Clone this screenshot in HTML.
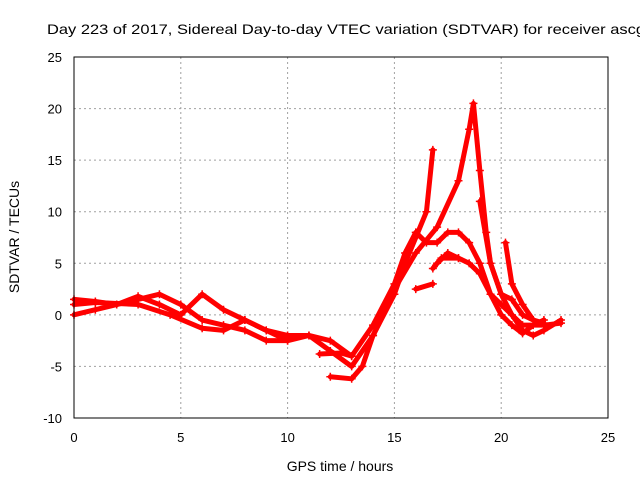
<!DOCTYPE html>
<html><head><meta charset="utf-8"><style>
body{margin:0;background:#fff;}
svg{display:block;font-family:"Liberation Sans",sans-serif;}
</style></head><body>
<svg id="chart" width="640" height="480">
<text x="47" y="34" text-anchor="start" font-size="14" textLength="598" lengthAdjust="spacingAndGlyphs" fill="#000">Day 223 of 2017, Sidereal Day-to-day VTEC variation (SDTVAR) for receiver ascg</text>
<text x="340" y="471" text-anchor="middle" font-size="14" fill="#000">GPS time / hours</text>
<text x="0" y="0" transform="translate(19,237) rotate(-90)" text-anchor="middle" font-size="14" fill="#000">SDTVAR / TECUs</text>
<g id="grid"></g><g id="marks"></g>
<rect x="74" y="57" width="534" height="361" fill="none" stroke="#000" stroke-width="1"/>
<g id="ticks"></g>
</svg>
<script>
const xTicks=[0,5,10,15,20,25];
const yTicks=[-10,-5,0,5,10,15,20,25];
const trackA=[[0,1.5],[1,1.3],[2,1],[3,1.5],[4,2],[5,1],[6,-0.5],[7,-1],[8,-1.5],[9,-2.5],[10,-2.5],[11,-2],[12,-2.5],[13,-4],[14,-1],[15,3],[15.5,6],[16,8],[16.5,7],[17,7],[17.5,8],[18,8],[18.5,7],[19,5],[19.5,2],[20,1],[21,-1],[22,-1],[22.8,-0.8]];
const trackB=[[0,0],[1,0.5],[2,1],[3,1.8],[4,1],[5,0],[6,2],[7,0.5],[8,-0.5],[9,-1.5],[10,-2],[11,-2],[12,-3.5],[13,-5],[14,-2],[15,2],[15.5,5],[16,7.5],[16.5,10],[16.8,16]];
const trackC=[[12,-6],[13,-6.2],[13.5,-5],[14,-2],[15,2.5],[16,6],[17,8.5],[18,13],[18.5,18],[18.7,20.5],[19,14],[19.3,8],[19.5,5],[20,2],[20.5,0],[21,-1.5],[21.5,-2],[22,-1.5],[22.8,-0.5]];
const trackD=[[17,5],[17.5,6],[18,5.5],[18.5,5],[19,4],[19.5,2],[20,0],[20.5,-1],[21,-1.8],[21.5,-1],[22,-0.5]];
const trackE=[[19,11],[19.5,5],[20,2],[20.5,1.5],[21,0],[22,-1]];
const trackF=[[20.2,7],[20.5,3],[21,1],[21.5,-0.5],[22,-0.8]];
const trackG=[[11.5,-3.8],[12.5,-3.7],[13,-4]];
const trackH=[[16,2.5],[16.8,3]];
const trackI=[[16.8,4.5],[17.2,5.5],[18,5.5]];
const trackJ=[[0,1],[1,1.2],[3,1],[4.5,0],[6,-1.3],[7,-1.5],[8,-0.5],[9,-1.5],[10,-2.5]];
const tracks=[trackA,trackB,trackC,trackD,trackE,trackF,trackG,trackH,trackI,trackJ];
const NS="http://www.w3.org/2000/svg";
const X=v=>74+(v-0)/25*534;
const Y=v=>418-(v+10)/35*361;
const grid=document.getElementById('grid'),ticks=document.getElementById('ticks'),marks=document.getElementById('marks');
function mk(tag,a,p){const e=document.createElementNS(NS,tag);for(const k in a)e.setAttribute(k,a[k]);p.appendChild(e);return e;}
xTicks.forEach(t=>{
 if(t>0&&t<25){const g=mk('line',{x1:X(t),x2:X(t),y1:57,y2:418,stroke:'#a0a0a0','stroke-dasharray':'2,3'},grid);
 
 }
 const l=mk('text',{x:X(t),y:442,'text-anchor':'middle','font-size':'13'},ticks);l.textContent=t;
 
 
});
yTicks.forEach(t=>{
 if(t>-10&&t<25){const g=mk('line',{x1:74,x2:608,y1:Y(t),y2:Y(t),stroke:'#a0a0a0','stroke-dasharray':'2,3'},grid);
 
 }
 const l=mk('text',{x:62,y:Y(t)+5,'text-anchor':'end','font-size':'13'},ticks);l.textContent=t;
 
 
});
tracks.forEach(tr=>{
 const p=mk('polyline',{points:tr.map(d=>X(d[0])+','+Y(d[1])).join(' '),fill:'none',stroke:'#ff0000','stroke-width':'5','stroke-linejoin':'round','stroke-linecap':'round'},marks);
 
 
 tr.forEach(d=>{
  const m=mk('path',{d:`M${X(d[0])-4},${Y(d[1])}h8M${X(d[0])},${Y(d[1])-4}v8`,stroke:'#ff0000','stroke-width':'1.5'},marks);
  
  
 });
});
</script>
</body></html>
